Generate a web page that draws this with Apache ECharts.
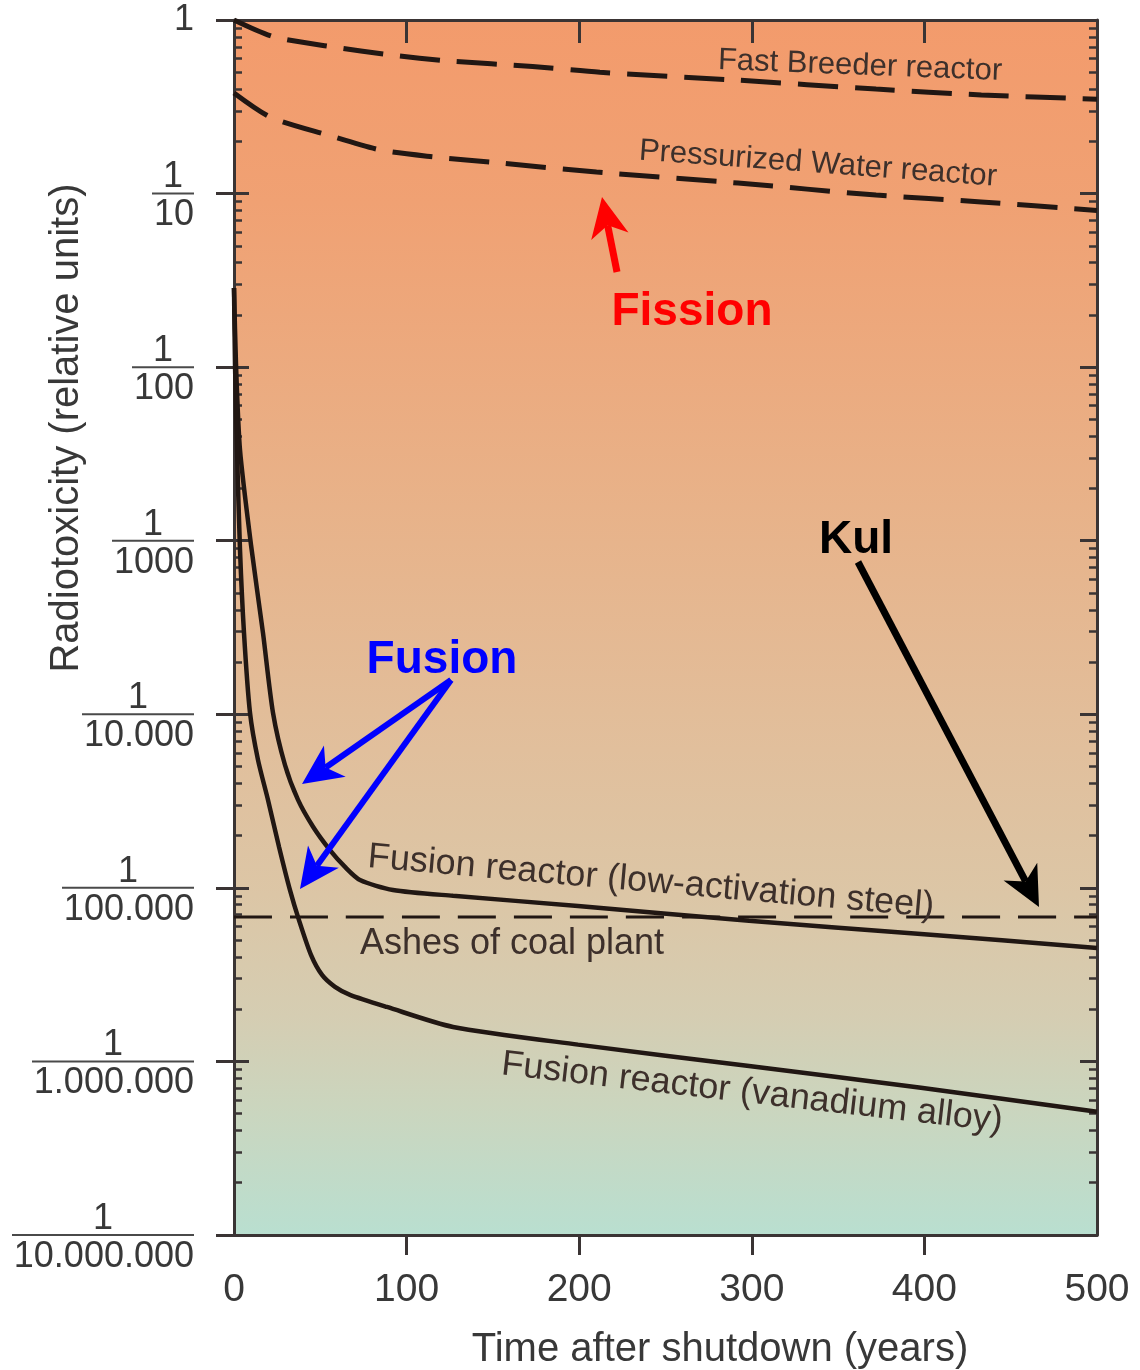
<!DOCTYPE html>
<html>
<head>
<meta charset="utf-8">
<style>
  html, body { margin: 0; padding: 0; background: #fff; }
  #chart { width: 1140px; height: 1370px; }
</style>
<script src="https://cdn.jsdelivr.net/npm/echarts@6/dist/echarts.min.js"></script>
</head>
<body>
<div id="chart"></div>
<script>
// ---------- axes ----------
const yearTicks = [0, 100, 200, 300, 400, 500];
const innerYearTicks = [100, 200, 300, 400];
// y labels are "1 / denominator", index = decade below 1
const yDenominators = ['', '10', '100', '1000', '10.000', '100.000', '1.000.000', '10.000.000'];
const minorMultipliers = [2, 3, 4, 5, 6, 7, 8, 9];

// ---------- series (years, relative radiotoxicity) ----------
const fastBreederYears  = [0, 23, 57, 90, 125, 173, 212, 292, 372, 433, 500];
const fastBreederValues = [1.0, 0.80, 0.70, 0.63, 0.58, 0.54, 0.50, 0.45, 0.40, 0.37, 0.35];

const pwrYears  = [0, 21, 54, 85, 115, 154, 210, 292, 372, 433, 500];
const pwrValues = [0.38, 0.276, 0.218, 0.178, 0.163, 0.150, 0.133, 0.115, 0.098, 0.0895, 0.080];

const steelYears  = [0, 1.16, 3.48, 9.85, 16.8, 22.6, 29.5, 37.1, 45.8, 55.6, 64.3, 73, 92.1, 126.9, 199.3, 298.4, 398, 500];
const steelValues = [0.0286, 0.0104, 3.33e-3, 9.46e-4, 2.94e-4, 1.02e-4, 5.12e-5, 3.21e-5, 2.25e-5, 1.65e-5, 1.32e-5, 1.11e-5, 9.73e-6, 9.0e-6, 7.87e-6, 6.46e-6, 5.43e-6, 4.5e-6];

const vanadiumYears  = [0, 0.58, 1.74, 3.48, 5.79, 9.27, 13.9, 19.7, 26.1, 32.4, 37.6, 44.6, 51.0, 58.5, 67.2, 88.6, 126.9, 199.3, 298.4, 398, 500];
const vanadiumValues = [0.0286, 0.0104, 3.33e-3, 8.85e-4, 2.94e-4, 1.02e-4, 5.46e-5, 3.21e-5, 1.72e-5, 9.73e-6, 6.54e-6, 4.11e-6, 3.15e-6, 2.69e-6, 2.42e-6, 2.06e-6, 1.58e-6, 1.25e-6, 9.4e-7, 7.05e-7, 5.13e-7];

const ashesYears  = [0, 500];
const ashesValues = [6.8e-6, 6.8e-6];

// ---------- styling ----------
const FONT = '"Liberation Sans", Arial, Helvetica, sans-serif';
const frameColor = '#3a3434';
const labelColor = '#383838';
const noteColor = '#3d302b';
const curveColor = '#211713';

const minorTickValues = [];
for (let e = -7; e < 0; e++) {
  minorMultipliers.forEach(m => minorTickValues.push(m * Math.pow(10, e)));
}

// fraction labels: numerator, bar, denominator
const measure = document.createElement('canvas').getContext('2d');
measure.font = '36px ' + FONT;
const yRich = {
  top: { fontSize: 36, fontFamily: FONT, color: labelColor, lineHeight: 36 },
  gap: { fontSize: 1, lineHeight: 12 },
  num: { fontSize: 36, fontFamily: FONT, color: labelColor, lineHeight: 28, align: 'center' },
  den: { fontSize: 36, fontFamily: FONT, color: labelColor, lineHeight: 40, align: 'right' }
};
yDenominators.forEach((d, k) => {
  if (!k) return;
  yRich['bar' + k] = {
    fontSize: 1, width: Math.round(measure.measureText(d).width) + 2, height: 2,
    lineHeight: 4, backgroundColor: '#4a4a4a', align: 'right'
  };
});

function yLabel(v) {
  const k = Math.round(-Math.log10(v));
  if (k === 0) return '{top|1}\n{gap| }';
  return '{num|1}\n{bar' + k + '| }\n{den|' + yDenominators[k] + '}';
}

function pairs(xs, ys) { return xs.map((x, i) => [x, ys[i]]); }

function curve(name, xs, ys, dash, width) {
  return {
    name, type: 'line', data: pairs(xs, ys), xAxisIndex: 0, yAxisIndex: 0,
    showSymbol: false, symbol: 'none', smooth: 0.25, silent: true, z: 3,
    lineStyle: { color: curveColor, width, type: dash || 'solid', cap: 'butt' }
  };
}

const lineStyleFrame = { color: frameColor, width: 3 };

function logAxis(extra) {
  return Object.assign({
    type: 'log', logBase: 10, min: 1e-7, max: 1, splitNumber: 7,
    axisLine: { show: false, onZero: false },
    axisTick: { show: false },
    axisLabel: { show: false },
    splitLine: { show: false }
  }, extra);
}

const option = {
  animation: false,
  backgroundColor: '#ffffff',
  grid: {
    left: 234, right: 43, top: 20, bottom: 135,
    show: true, borderWidth: 0,
    backgroundColor: {
      type: 'linear', x: 0, y: 0, x2: 0, y2: 1,
      colorStops: [
        { offset: 0, color: '#F39B6C' },
        { offset: 0.15, color: '#F0A173' },
        { offset: 0.4, color: '#E8B289' },
        { offset: 0.6, color: '#E1BF9C' },
        { offset: 0.72, color: '#DCC6A6' },
        { offset: 0.82, color: '#D5CDB2' },
        { offset: 0.9, color: '#CAD6BF' },
        { offset: 1, color: '#B9DFD0' }
      ]
    }
  },
  xAxis: [
    {
      type: 'value', min: 0, max: 500, interval: 100, position: 'bottom',
      axisLine: { show: true, onZero: false, lineStyle: lineStyleFrame },
      axisTick: { show: true, customValues: innerYearTicks, inside: false, length: 20, lineStyle: lineStyleFrame },
      axisLabel: { customValues: yearTicks, fontSize: 39, fontFamily: FONT, color: labelColor, margin: 36 },
      splitLine: { show: false }
    },
    {
      type: 'value', min: 0, max: 500, interval: 100, position: 'top',
      axisLine: { show: true, onZero: false, lineStyle: lineStyleFrame },
      axisTick: { show: true, customValues: innerYearTicks, inside: true, length: 23, lineStyle: lineStyleFrame },
      axisLabel: { show: false },
      splitLine: { show: false }
    }
  ],
  yAxis: [
    logAxis({
      position: 'left',
      axisLine: { show: true, onZero: false, lineStyle: lineStyleFrame },
      axisTick: { show: true, inside: false, length: 18, lineStyle: lineStyleFrame },
      axisLabel: { show: true, margin: 40, formatter: yLabel, rich: yRich, padding: [12, 0, 0, 0] }
    }),
    logAxis({ position: 'left', axisTick: { show: true, inside: true, length: 15, lineStyle: lineStyleFrame } }),
    logAxis({ position: 'left', axisTick: { show: true, inside: true, length: 8, customValues: minorTickValues, lineStyle: { color: frameColor, width: 2.5 } } }),
    logAxis({
      position: 'right',
      axisLine: { show: true, onZero: false, lineStyle: lineStyleFrame },
      axisTick: { show: true, inside: true, length: 17, lineStyle: lineStyleFrame }
    }),
    logAxis({ position: 'right', axisTick: { show: true, inside: true, length: 8, customValues: minorTickValues, lineStyle: { color: frameColor, width: 2.5 } } })
  ],
  series: [
    curve('Fast Breeder reactor', fastBreederYears, fastBreederValues, [40, 17], 5),
    curve('Pressurized Water reactor', pwrYears, pwrValues, [40, 17], 5),
    curve('Fusion reactor (low-activation steel)', steelYears, steelValues, null, 4.5),
    curve('Fusion reactor (vanadium alloy)', vanadiumYears, vanadiumValues, null, 4.5),
    curve('Ashes of coal plant', ashesYears, ashesValues, [38, 18], 3)
  ]
};

// ---------- annotations ----------
function note(text, x, y, deg, size, color, weight) {
  return {
    type: 'text', x, y, rotation: deg * Math.PI / 180, z: 50, silent: true,
    style: {
      text, x: 0, y: 0, fill: color,
      font: (weight || 'normal') + ' ' + size + 'px ' + FONT,
      align: 'center', verticalAlign: 'middle',
      textAlign: 'center', textVerticalAlign: 'middle'
    }
  };
}

function arrow(x1, y1, x2, y2, color, headLen, headHalf, lw) {
  const dx = x2 - x1, dy = y2 - y1, L = Math.hypot(dx, dy);
  const ux = dx / L, uy = dy / L, px = -uy, py = ux;
  const bx = x2 - ux * headLen, by = y2 - uy * headLen;
  const nx = x2 - ux * headLen * 0.72, ny = y2 - uy * headLen * 0.72;
  return [
    { type: 'line', z: 60, silent: true, shape: { x1, y1, x2: nx, y2: ny }, style: { stroke: color, lineWidth: lw } },
    { type: 'polygon', z: 61, silent: true,
      shape: { points: [[x2, y2], [bx + px * headHalf, by + py * headHalf], [nx, ny], [bx - px * headHalf, by - py * headHalf]] },
      style: { fill: color } }
  ];
}

option.graphic = [
  note('Fast Breeder reactor', 860, 66, -2.2, 31, noteColor),
  note('Pressurized Water reactor', 818, 164, -4.2, 31, noteColor),
  note('Fusion reactor (low-activation steel)', 651, 882, -5, 36, noteColor),
  note('Ashes of coal plant', 512, 944, 0, 36, noteColor),
  note('Fusion reactor (vanadium alloy)', 752, 1093, -6.5, 36, noteColor),
  note('Fission', 692, 312, 0, 46, '#FF0000', 'bold'),
  note('Fusion', 442, 660, 0, 46, '#0000FF', 'bold'),
  note('Kul', 856, 540, 0, 46, '#000000', 'bold'),
  note('Radiotoxicity (relative units)', 67, 428, 90, 40, labelColor),
  note('Time after shutdown (years)', 720, 1350, 0, 40, labelColor)
].concat(
  arrow(617, 272, 602, 197, '#FF0000', 40, 19, 7),
  arrow(451, 680, 302, 784, '#0000FF', 40, 19, 6),
  arrow(451, 680, 300, 889, '#0000FF', 40, 19, 6),
  arrow(858, 562, 1039, 907, '#000000', 40, 19, 7)
);

const chart = echarts.init(document.getElementById('chart'), null, { renderer: 'canvas' });
chart.setOption(option);
</script>
</body>
</html>
